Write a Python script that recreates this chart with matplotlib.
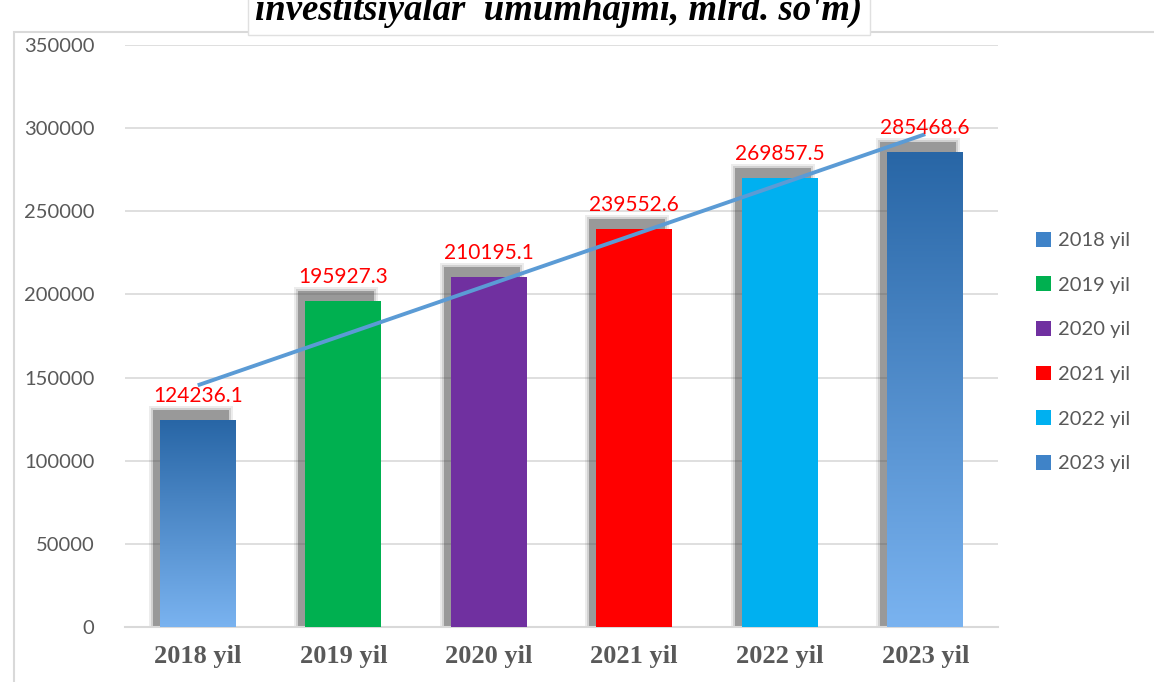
import numpy as np
import matplotlib
matplotlib.use('Agg')
import matplotlib.pyplot as plt
from matplotlib.patches import Rectangle

years = ['2018 yil', '2019 yil', '2020 yil', '2021 yil', '2022 yil', '2023 yil']
values = [124236.1, 195927.3, 210195.1, 239552.6, 269857.5, 285468.6]
colors = ['grad', '#00B050', '#7030A0', '#FF0000', '#00B0F0', 'grad']
legend_colors = ['#3F83C8', '#00B050', '#7030A0', '#FF0000', '#00B0F0', '#3F83C8']
yticks = [0, 50000, 100000, 150000, 200000, 250000, 300000, 350000]

grad_top = np.array([0x28, 0x66, 0xA6]) / 255
grad_bot = np.array([0x7A, 0xB3, 0xF0]) / 255

plt.rcParams['font.family'] = ['Lato', 'DejaVu Sans']

fig = plt.figure(figsize=(11.54, 6.82), dpi=100)
fig.patch.set_facecolor('white')

# outer frame of the chart
fig.patches.append(Rectangle((14 / 1154, -0.05), 1.2, 1 - 32 / 682 + 0.05,
                             transform=fig.transFigure, fill=False,
                             edgecolor='#D9D9D9', lw=1.5))

# title, cut off at the top like in the source
fig.text(0.484, 1 - 20 / 682, "investitsiyalar  umumhajmi, mlrd. so'm)",
         ha='center', va='baseline', fontsize=26.5, fontstyle='italic',
         fontweight='bold', family='Liberation Serif', color='black',
         bbox=dict(facecolor='white', edgecolor='#E0E0E0', lw=1,
                   boxstyle='square,pad=0.2'))

ax = fig.add_axes([125 / 1154, 1 - 627 / 682, 873 / 1154, 582 / 682])
ax.set_facecolor('none')

x = np.arange(len(values))
w = 0.52
px_x = 1 / 145.4
px_y = 350000 / 582

for i, (v, c) in enumerate(zip(values, colors)):
    # blurred shadow
    for k, a in [(4, 0.10), (2, 0.16), (0, 0.40)]:
        sx = i - w / 2 - 7 * px_x - k * px_x
        sy_top = v + 10 * px_y + k * px_y
        ax.add_patch(Rectangle((sx, 0), w + 2 * k * px_x, sy_top,
                               facecolor='#474747', alpha=a, lw=0, zorder=2))
    if c == 'grad':
        grad = np.linspace(0, 1, 256)[:, None, None]
        img = grad_top * (1 - grad) + grad_bot * grad
        ax.imshow(img, extent=(i - w / 2, i + w / 2, 0, v), aspect='auto',
                  zorder=3, interpolation='bilinear')
    else:
        ax.bar(i, v, width=w, color=c, zorder=3)
    ax.text(i, v + 14 * px_y, f'{v:.1f}', ha='center', va='bottom',
            color='#FF0000', fontsize=15, zorder=5)

# linear trendline
coef = np.polyfit(x, values, 1)
ax.plot(x, np.polyval(coef, x), color='#5B9BD5', lw=2.8, zorder=4,
        solid_capstyle='butt')

ax.set_xlim(-0.5, 5.5)
ax.set_ylim(0, 350000)
ax.set_yticks(yticks)
ax.set_yticklabels([str(t) for t in yticks], color='#595959', fontsize=14.5)
ax.set_xticks(x)
ax.set_xticklabels(years, family='Liberation Serif', fontweight='bold',
                   fontsize=19, color='#595959')
ax.tick_params(axis='both', length=0)
ax.tick_params(axis='y', pad=22)
ax.tick_params(axis='x', pad=13)
ax.grid(axis='y', color='#D9D9D9', lw=1.2, zorder=0)
ax.set_axisbelow(True)
for s in ['top', 'right', 'left']:
    ax.spines[s].set_visible(False)
ax.spines['bottom'].set_color('#D9D9D9')
ax.spines['bottom'].set_linewidth(1.5)

# legend
handles = [Rectangle((0, 0), 1, 1, facecolor=c) for c in legend_colors]
leg = fig.legend(handles, years, loc='center left',
                 bbox_to_anchor=(1018 / 1154, 1 - 352 / 682), frameon=False,
                 fontsize=14.5, labelcolor='#595959', handlelength=0.75,
                 handleheight=0.75, handletextpad=0.35, labelspacing=1.35)

fig.savefig('out.png', dpi=100)
